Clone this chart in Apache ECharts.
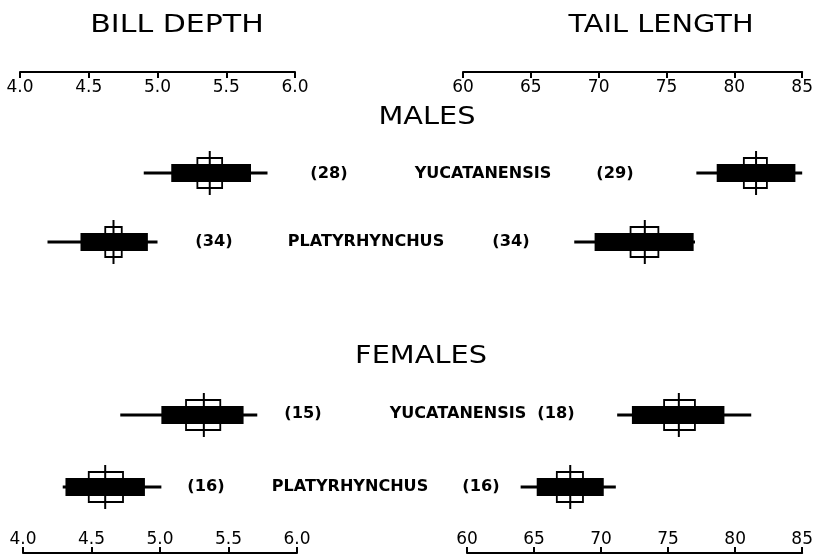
<!DOCTYPE html>
<html lang="en">
<head>
    <meta charset="UTF-8">
    <title>Bill depth and tail length</title>
    <script src="https://cdn.jsdelivr.net/npm/echarts@6/dist/echarts.min.js"></script>
</head>
<body style="margin:0;background:#fff">
<div id="chart" style="width: 816px; height: 555px;"></div>
<script>
  // row order top to bottom in each panel
  var taxa = ['YUCATANENSIS', 'PLATYRHYNCHUS'];

  // each row: [range min, range max, bar lo, bar hi, box lo, box hi, mean]
  var maleBill = [
    [4.90, 5.80, 5.10, 5.68, 5.29, 5.47, 5.38],
    [4.20, 5.00, 4.44, 4.93, 4.62, 4.74, 4.68]
  ];
  var maleTail = [
    [77.2, 85.0, 78.7, 84.5, 80.7, 82.4, 81.6],
    [68.2, 77.1, 69.7, 77.0, 72.35, 74.4, 73.4]
  ];
  var femaleBill = [
    [4.71, 5.71, 5.01, 5.61, 5.19, 5.44, 5.32],
    [4.29, 5.01, 4.31, 4.89, 4.48, 4.73, 4.60]
  ];
  var femaleTail = [
    [71.2, 81.2, 72.3, 79.2, 74.7, 77.0, 75.8],
    [64.0, 71.1, 65.2, 70.2, 66.7, 68.65, 67.7]
  ];

  // sample sizes
  var maleBillN = [28, 34];
  var maleTailN = [29, 34];
  var femaleBillN = [15, 16];
  var femaleTailN = [18, 16];

  var billTicks = {min: 4.0, max: 6.0, interval: 0.5};
  var tailTicks = {min: 60, max: 85, interval: 5};

  var FONT = 'DejaVu Sans';

  function rows(arr) {
    return arr.map(function (r, i) { return r.concat([i]); });
  }

  function renderGlyph(params, api) {
    var c = api.value(7);
    var y = api.coord([api.value(6), c])[1];
    var x = function (k) { return api.coord([api.value(k), c])[0]; };
    return {
      type: 'group',
      children: [
        {type: 'rect', shape: {x: x(0), y: y - 1.5, width: x(1) - x(0), height: 3},
          style: {fill: '#000'}},
        {type: 'rect', shape: {x: x(4), y: y - 15, width: x(5) - x(4), height: 30},
          style: {fill: '#fff', stroke: '#000', lineWidth: 1.8}},
        {type: 'rect', shape: {x: x(2), y: y - 9, width: x(3) - x(2), height: 18},
          style: {fill: '#000'}},
        {type: 'line', shape: {x1: x(6), y1: y - 22, x2: x(6), y2: y + 22},
          style: {stroke: '#000', lineWidth: 2}}
      ]
    };
  }

  function xAxis(i, ticks, pos, offset) {
    return {
      type: 'value', gridIndex: i, position: pos, offset: offset,
      min: ticks.min, max: ticks.max, interval: ticks.interval,
      axisLine: {show: true, lineStyle: {color: '#000', width: 2}},
      axisTick: {show: true, inside: true, length: 6, lineStyle: {color: '#000', width: 2}},
      splitLine: {show: false},
      axisLabel: {
        inside: true, margin: pos === 'top' ? 7 : 5, color: '#000',
        fontFamily: FONT, fontSize: 17,
        formatter: function (v) { return ticks.interval < 1 ? v.toFixed(1) : String(v); }
      }
    };
  }

  function yAxis(i) {
    return {type: 'category', gridIndex: i, data: taxa, inverse: true, show: false};
  }

  function series(i, data) {
    return {
      type: 'custom', xAxisIndex: i, yAxisIndex: i, data: rows(data),
      encode: {x: [0, 1, 2, 3, 4, 5, 6], y: 7},
      renderItem: renderGlyph, clip: false, silent: true
    };
  }

  // lettering in the original is wide, so stretch text horizontally
  function txt(x, y, s, size, weight, sx) {
    return {
      type: 'text', x: x, y: y, scaleX: sx || 1,
      style: {text: s, fill: '#000', font: (weight || 'normal') + ' ' + size + 'px "' + FONT + '"',
        align: 'center', verticalAlign: 'middle'}
    };
  }

  var chart = echarts.init(document.getElementById('chart'));

  var labels = [
    txt(177, 26, 'BILL DEPTH', 24, 'normal', 1.25),
    txt(661, 26, 'TAIL LENGTH', 24, 'normal', 1.2),
    txt(427, 118, 'MALES', 24, 'normal', 1.2),
    txt(421, 357, 'FEMALES', 24, 'normal', 1.2),

    txt(329, 174, '(' + maleBillN[0] + ')', 15, 'bold', 1.08),
    txt(483, 174, taxa[0], 15, 'bold', 1.07),
    txt(615, 174, '(' + maleTailN[0] + ')', 15, 'bold', 1.08),

    txt(214, 242, '(' + maleBillN[1] + ')', 15, 'bold', 1.08),
    txt(366, 242, taxa[1], 15, 'bold', 1.07),
    txt(511, 242, '(' + maleTailN[1] + ')', 15, 'bold', 1.08),

    txt(303, 414, '(' + femaleBillN[0] + ')', 15, 'bold', 1.08),
    txt(458, 414, taxa[0], 15, 'bold', 1.07),
    txt(556, 414, '(' + femaleTailN[0] + ')', 15, 'bold', 1.08),

    txt(206, 487, '(' + femaleBillN[1] + ')', 15, 'bold', 1.08),
    txt(350, 487, taxa[1], 15, 'bold', 1.07),
    txt(481, 487, '(' + femaleTailN[1] + ')', 15, 'bold', 1.08)
  ];

  chart.setOption({
    animation: false,
    backgroundColor: '#fff',
    grid: [
      {left: 20, width: 275, top: 138.5, height: 138},
      {left: 463, width: 344, top: 138.5, height: 138},
      {left: 23, width: 274, top: 379, height: 144},
      {left: 467, width: 341, top: 379, height: 144}
    ],
    xAxis: [
      xAxis(0, billTicks, 'top', 66.5),
      xAxis(1, tailTicks, 'top', 66.5),
      xAxis(2, billTicks, 'bottom', 30),
      xAxis(3, tailTicks, 'bottom', 30)
    ],
    yAxis: [yAxis(0), yAxis(1), yAxis(2), yAxis(3)],
    series: [
      series(0, maleBill),
      series(1, maleTail),
      series(2, femaleBill),
      series(3, femaleTail)
    ],
    graphic: labels
  });
</script>
</body>
</html>
